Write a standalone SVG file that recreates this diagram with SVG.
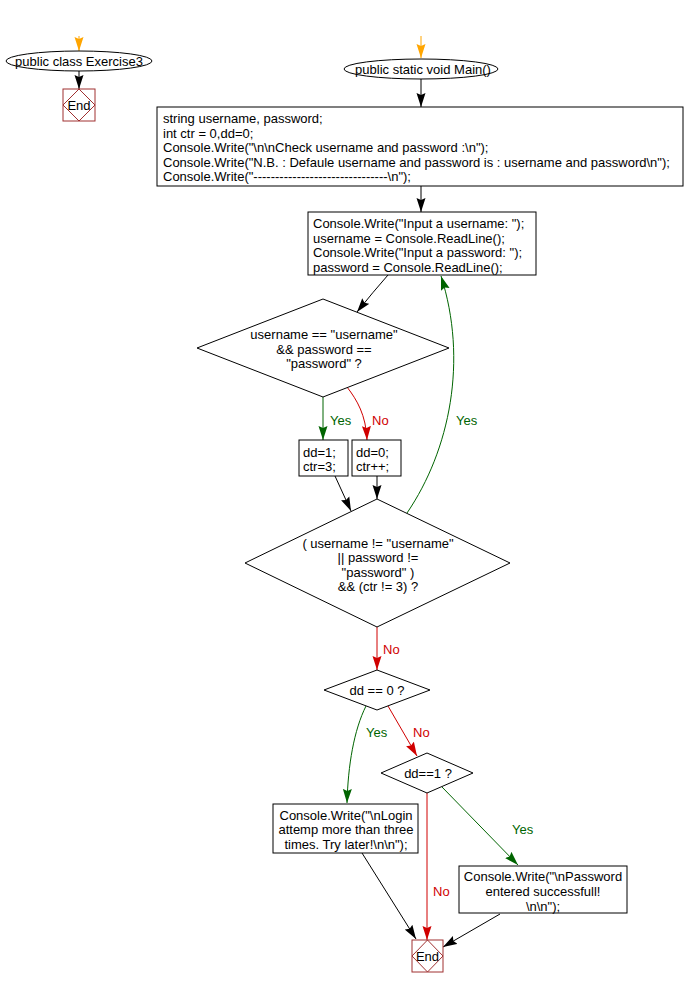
<svg xmlns="http://www.w3.org/2000/svg" width="685" height="988" viewBox="0 0 685 988">
<style>
text{font-family:"Liberation Sans",Arial,sans-serif;font-size:13px;fill:#000}
.c{text-anchor:middle}
.shape{fill:#fff;stroke:#000;stroke-width:1}
.endbox{fill:#fff;stroke:#a03030;stroke-width:1}
.endd{fill:none;stroke:#a03030;stroke-width:1}
.ln{fill:none;stroke-width:1}
.k{stroke:#000}
.g{stroke:#006400}
.r{stroke:#d00000}
.o{stroke:#ffa500}
.tg{fill:#006400}
.tr{fill:#d00000}
</style>
<defs>
<marker id="ak" markerUnits="userSpaceOnUse" markerWidth="14" markerHeight="10" viewBox="0 0 14 10" refX="14" refY="5" orient="auto"><path d="M0,0.5 L14,5 L0,9.5 L2,5 z" fill="#000"/></marker>
<marker id="ag" markerUnits="userSpaceOnUse" markerWidth="14" markerHeight="10" viewBox="0 0 14 10" refX="14" refY="5" orient="auto"><path d="M0,0.5 L14,5 L0,9.5 L2,5 z" fill="#006400"/></marker>
<marker id="ar" markerUnits="userSpaceOnUse" markerWidth="14" markerHeight="10" viewBox="0 0 14 10" refX="14" refY="5" orient="auto"><path d="M0,0.5 L14,5 L0,9.5 L2,5 z" fill="#d00000"/></marker>
<marker id="ao" markerUnits="userSpaceOnUse" markerWidth="14" markerHeight="10" viewBox="0 0 14 10" refX="14" refY="5" orient="auto"><path d="M0,0.5 L14,5 L0,9.5 L2,5 z" fill="#ffa500"/></marker>
</defs>
<rect width="685" height="988" fill="#fff"/>

<g id="connectors">
<path class="ln o" d="M79,36 V51" marker-end="url(#ao)"/>
<path class="ln k" d="M79,71 V89" marker-end="url(#ak)"/>
<path class="ln o" d="M421,36 V58" marker-end="url(#ao)"/>
<path class="ln k" d="M421,79 V107" marker-end="url(#ak)"/>
<path class="ln k" d="M421,186 V212" marker-end="url(#ak)"/>
<path class="ln k" d="M388,275 Q373,292 357,312" marker-end="url(#ak)"/>
<path class="ln g" d="M323,397 V440" marker-end="url(#ag)"/>
<text x="330" y="425" class="tg">Yes</text>
<path class="ln r" d="M347,387 C357,400 366,415 367,440" marker-end="url(#ar)"/>
<text x="372" y="425" class="tr">No</text>
<path class="ln k" d="M335,476 L351,511" marker-end="url(#ak)"/>
<path class="ln k" d="M377,476 V499" marker-end="url(#ak)"/>
<path class="ln g" d="M407,513 C450,450 468,360 441,276" marker-end="url(#ag)"/>
<text x="456" y="425" class="tg">Yes</text>
<path class="ln r" d="M377,627 V670" marker-end="url(#ar)"/>
<text x="383" y="654" class="tr">No</text>
<path class="ln g" d="M366,706 C354,730 348,765 347,803" marker-end="url(#ag)"/>
<text x="366" y="737" class="tg">Yes</text>
<path class="ln r" d="M388,706 L417,756" marker-end="url(#ar)"/>
<text x="413" y="737" class="tr">No</text>
<path class="ln r" d="M427,793 V940" marker-end="url(#ar)"/>
<text x="433" y="896" class="tr">No</text>
<path class="ln g" d="M442,787 L518,865" marker-end="url(#ag)"/>
<text x="512" y="834" class="tg">Yes</text>
<path class="ln k" d="M362,853 L416,939" marker-end="url(#ak)"/>
<path class="ln k" d="M500,914 L443,947" marker-end="url(#ak)"/>
</g>

<g id="class-start">
<ellipse class="shape" cx="79" cy="61" rx="73" ry="10"/>
<text x="79" y="66" class="c">public class Exercise3</text>
</g>
<g id="class-end">
<rect class="endbox" x="63" y="89" width="32" height="32"/>
<path class="endd" d="M79,89 L95,105 L79,121 L63,105 z"/>
<text x="79" y="110" class="c">End</text>
</g>

<g id="main-start">
<ellipse class="shape" cx="421" cy="69" rx="77" ry="10"/>
<text x="423" y="74" class="c">public static void Main()</text>
</g>

<g id="init">
<rect class="shape" x="157" y="107" width="526" height="79"/>
<text x="163" y="123">string username, password;</text>
<text x="163" y="137.5">int ctr = 0,dd=0;</text>
<text x="163" y="152">Console.Write("\n\nCheck username and password :\n");</text>
<text x="163" y="166.5">Console.Write("N.B. : Defaule username and password is : username and password\n");</text>
<text x="163" y="181">Console.Write("-------------------------------\n");</text>
</g>

<g id="input">
<rect class="shape" x="308" y="212" width="228" height="63"/>
<text x="313" y="228">Console.Write("Input a username: ");</text>
<text x="313" y="242.5">username = Console.ReadLine();</text>
<text x="313" y="257">Console.Write("Input a password: ");</text>
<text x="313" y="271.5">password = Console.ReadLine();</text>
</g>

<g id="check1">
<path class="shape" d="M323,299 L449,348 L323,397 L197,348 z"/>
<text x="324" y="339" class="c">username == "username"</text>
<text x="324" y="354" class="c">&amp;&amp; password ==</text>
<text x="324" y="368" class="c">"password" ?</text>
</g>

<g id="ok">
<rect class="shape" x="299" y="440" width="49" height="36"/>
<text x="303" y="457">dd=1;</text>
<text x="303" y="471">ctr=3;</text>
</g>

<g id="fail">
<rect class="shape" x="352" y="440" width="49" height="36"/>
<text x="356" y="457">dd=0;</text>
<text x="356" y="471">ctr++;</text>
</g>

<g id="loop">
<path class="shape" d="M377,499 L510,563 L377,627 L245,563 z"/>
<text x="378" y="547.5" class="c">( username != "username"</text>
<text x="378" y="562" class="c">|| password !=</text>
<text x="378" y="576.5" class="c">"password" )</text>
<text x="378" y="591" class="c">&amp;&amp; (ctr != 3) ?</text>
</g>

<g id="dd0">
<path class="shape" d="M377,670 L430,690 L377,710 L324,690 z"/>
<text x="377" y="695" class="c">dd == 0 ?</text>
</g>

<g id="dd1">
<path class="shape" d="M427,753 L473,773 L427,793 L381,773 z"/>
<text x="428" y="778" class="c">dd==1 ?</text>
</g>

<g id="login-fail">
<rect class="shape" x="273" y="804" width="145" height="49"/>
<text x="346" y="819.5" class="c">Console.Write("\nLogin</text>
<text x="346" y="834" class="c">attemp more than three</text>
<text x="346" y="848.5" class="c">times. Try later!\n\n");</text>
</g>

<g id="login-ok">
<rect class="shape" x="459" y="866" width="168" height="47"/>
<text x="543" y="881" class="c">Console.Write("\nPassword</text>
<text x="543" y="896" class="c">entered successfull!</text>
<text x="543" y="910.5" class="c">\n\n");</text>
</g>

<g id="main-end">
<rect class="endbox" x="412" y="940" width="31" height="32"/>
<path class="endd" d="M427.5,940 L443,956 L427.5,972 L412,956 z"/>
<text x="427.5" y="961" class="c">End</text>
</g>
</svg>
